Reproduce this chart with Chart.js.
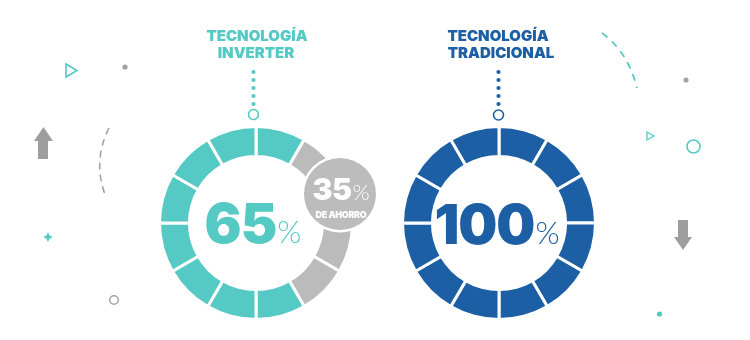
<!DOCTYPE html>
<html>
<head>
<meta charset="utf-8">
<script src="https://cdn.jsdelivr.net/npm/chart.js@4.4.1/dist/chart.umd.min.js"></script>
<style>
  html, body { margin:0; padding:0; background:#fff; }
  #wrap { position:relative; width:750px; height:340px; overflow:hidden; background:#fff; }
  canvas.donut { position:absolute; }
  #overlay { position:absolute; left:0; top:0; pointer-events:none; }
  text { font-family: Inter, Roboto, "Open Sans", sans-serif; }
</style>
</head>
<body>
<div id="wrap">
  <canvas id="c1" class="donut" width="196" height="196" style="left:158px;top:125px;width:196px;height:196px"></canvas>
  <canvas id="c2" class="donut" width="196" height="196" style="left:401px;top:125px;width:196px;height:196px"></canvas>
  <svg id="overlay" width="750" height="340" viewBox="0 0 750 340" xmlns="http://www.w3.org/2000/svg">
    <g id="deco">
      <polygon points="66,64 77,70.5 66,77" fill="none" stroke="#55c9c4" stroke-width="1.6"/>
      <circle cx="125" cy="67" r="2.6" fill="#a3a3a3"/>
      <polygon points="43.5,127 53,141 48,141 48,159 38,159 38,141 34,141" fill="#9e9e9e"/>
      <path d="M109,128 Q92,162 106,197" fill="none" stroke="#a3a3a3" stroke-width="1.6" stroke-dasharray="7,5"/>
      <path d="M48,232 L49.6,235.4 L53,237 L49.6,238.6 L48,242 L46.4,238.6 L43,237 L46.4,235.4 Z" fill="#55c9c4"/>
      <circle cx="114" cy="300" r="4.3" fill="none" stroke="#a3a3a3" stroke-width="1.5"/>
      <path d="M602,33 Q628,52 637,88" fill="none" stroke="#55c9c4" stroke-width="1.8" stroke-dasharray="7,6"/>
      <circle cx="686" cy="80" r="2.6" fill="#a3a3a3"/>
      <polygon points="647,132 654,136 647,140" fill="none" stroke="#55c9c4" stroke-width="1.3"/>
      <circle cx="693.5" cy="146.5" r="6.5" fill="none" stroke="#55c9c4" stroke-width="1.6"/>
      <polygon points="678,220 688,220 688,237 692,237 683,250 674,237 678,237" fill="#9e9e9e"/>
      <circle cx="659.5" cy="314" r="2.6" fill="#55c9c4"/>
    </g>
    <g id="conn1" fill="#55c9c4"></g>
    <g id="conn2" fill="#1c5fa4"></g>
    <circle cx="253.5" cy="114.5" r="5" fill="none" stroke="#55c9c4" stroke-width="1.6"/>
    <circle cx="498.5" cy="115" r="5" fill="none" stroke="#1c5fa4" stroke-width="1.6"/>
    <text id="t1a" x="257" y="41" text-anchor="middle" font-size="15" font-weight="900" fill="#55c9c4"></text>
    <text id="t1b" x="256" y="58" text-anchor="middle" font-size="15" font-weight="900" fill="#55c9c4"></text>
    <text id="t2a" x="498" y="41" text-anchor="middle" font-size="15" font-weight="900" fill="#1c5fa4"></text>
    <text id="t2b" x="501" y="58" text-anchor="middle" font-size="15" font-weight="900" fill="#1c5fa4"></text>
    <text id="v1" x="253" y="243" text-anchor="middle" fill="#55c9c4"></text>
    <text id="v2" x="497" y="244" text-anchor="middle" fill="#1c5fa4"></text>
    <circle cx="340" cy="194" r="38.5" fill="#ffffff"/>
    <circle cx="340" cy="194" r="36" fill="#bcbcbc"/>
    <text id="b1" x="341" y="200" text-anchor="middle" fill="#ffffff"></text>
    <text id="b2" x="341" y="217.5" text-anchor="middle" font-size="9" font-weight="900" fill="#ffffff" letter-spacing="-0.3"></text>
  </svg>
</div>
<script>
// ---- data ----
const inverterTitle = ['TECNOLOGÍA', 'INVERTER'];
const tradicionalTitle = ['TECNOLOGÍA', 'TRADICIONAL'];
const inverterPct = 65;
const savingPct = 35;
const tradicionalPct = 100;
const savingLabel = 'DE AHORRO';
// ring split into 12 equal segments
const inverterSegments = [1, 1, 1, 1, 1, 1, 1, 1, 1, 1, 1, 1];
const inverterSegmentKind = ['uso', 'ahorro', 'ahorro', 'ahorro', 'ahorro', 'uso', 'uso', 'uso', 'uso', 'uso', 'uso', 'uso'];
const tradicionalSegments = [1, 1, 1, 1, 1, 1, 1, 1, 1, 1, 1, 1];
const tradicionalSegmentKind = ['uso', 'uso', 'uso', 'uso', 'uso', 'uso', 'uso', 'uso', 'uso', 'uso', 'uso', 'uso'];

// ---- styles ----
const TEAL = '#55c9c4', BLUE = '#1c5fa4', GREY = '#bbbbbb';

function donut(id, values, kinds, mainColor) {
  new Chart(document.getElementById(id), {
    type: 'doughnut',
    data: {
      labels: kinds,
      datasets: [{
        data: values,
        backgroundColor: kinds.map(k => k === 'ahorro' ? GREY : mainColor),
        borderColor: '#ffffff',
        borderWidth: 3,
        hoverOffset: 0
      }]
    },
    options: {
      responsive: false,
      maintainAspectRatio: false,
      animation: false,
      cutout: '69%',
      rotation: 0,
      layout: { padding: 0 },
      events: [],
      plugins: { legend: { display: false }, tooltip: { enabled: false } }
    }
  });
}
donut('c1', inverterSegments, inverterSegmentKind, TEAL);
donut('c2', tradicionalSegments, tradicionalSegmentKind, BLUE);

// ---- text ----
const NS = 'http://www.w3.org/2000/svg';
function setText(id, s) { document.getElementById(id).textContent = s; }
setText('t1a', inverterTitle[0]); setText('t1b', inverterTitle[1]);
setText('t2a', tradicionalTitle[0]); setText('t2b', tradicionalTitle[1]);
function pctText(id, num, bigSize, pctSize, ls) {
  const t = document.getElementById(id);
  const a = document.createElementNS(NS, 'tspan');
  a.setAttribute('font-size', bigSize); a.setAttribute('font-weight', '900'); a.setAttribute('letter-spacing', ls); a.textContent = String(num);
  const b = document.createElementNS(NS, 'tspan');
  b.setAttribute('font-size', pctSize); b.setAttribute('font-weight', '300'); b.setAttribute('dx', '1');
  b.setAttribute('font-family', 'Lato, sans-serif'); b.textContent = '%';
  t.appendChild(a); t.appendChild(b);
}
pctText('v1', inverterPct, 55, 31, -1);
pctText('v2', tradicionalPct, 55, 31, -1);
pctText('b1', savingPct, 30, 22, -0.5);
setText('b2', savingLabel);

function dots(gid, x, ys) {
  const g = document.getElementById(gid);
  ys.forEach(y => { const c = document.createElementNS(NS, 'circle'); c.setAttribute('cx', x); c.setAttribute('cy', y); c.setAttribute('r', 2.1); g.appendChild(c); });
}
dots('conn1', 253.5, [72, 80, 88, 96, 104]);
dots('conn2', 498.5, [72, 80, 88, 96, 104]);
</script>
</body>
</html>
